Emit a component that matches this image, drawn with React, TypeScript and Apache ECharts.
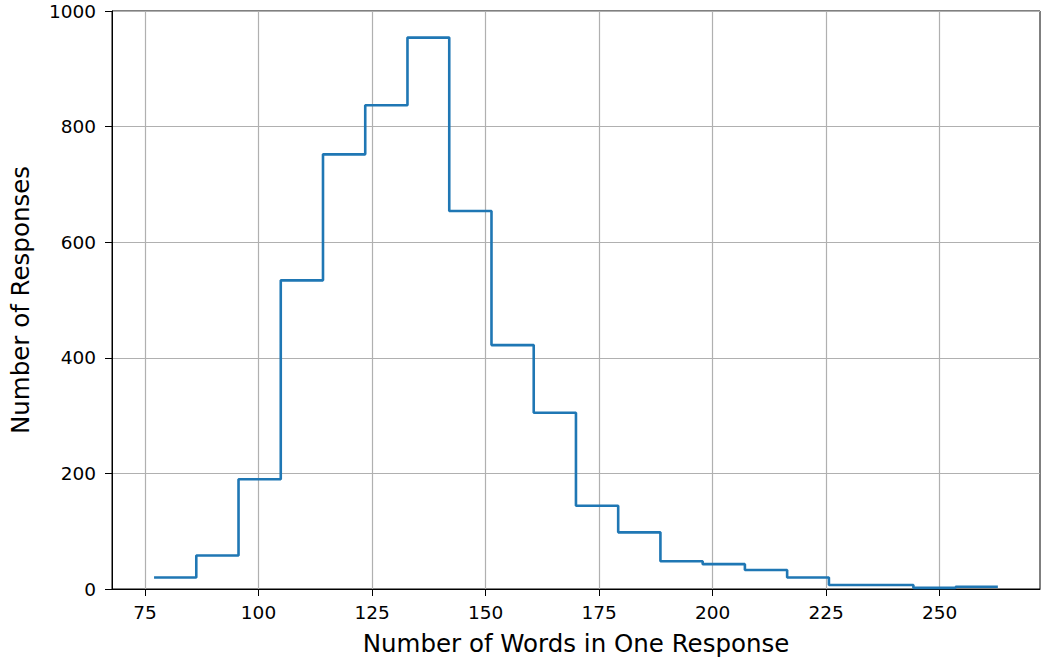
import { useEffect, useRef } from "react";
import * as echarts from "echarts";

// Histogram (step) of response word counts
const binEdges = [77.0, 86.3, 95.6, 104.9, 114.2, 123.5, 132.8, 142.0, 151.3, 160.6, 169.9, 179.2, 188.5, 197.8, 207.1, 216.4, 225.6, 234.9, 244.2, 253.5, 262.8];
const counts = [20, 58, 190, 534, 752, 837, 954, 654, 422, 305, 144, 98, 48, 43, 33, 20, 7, 7, 2, 4];
const xTicks = [75, 100, 125, 150, 175, 200, 225, 250];
const yTicks = [0, 200, 400, 600, 800, 1000];
const xRange = [67.74, 272.08];
const xTitle = "Number of Words in One Response";
const yTitle = "Number of Responses";

const FONT = "DejaVu Sans";

export default function App() {
  const ref = useRef<HTMLDivElement>(null);
  useEffect(() => {
    if (!ref.current) return;
    const chart = echarts.init(ref.current, undefined, { renderer: "svg" });
    const stepData: number[][] = counts.map((c, i) => [binEdges[i], c]);
    stepData.push([binEdges[binEdges.length - 1], counts[counts.length - 1]]);
    chart.setOption({
      animation: false,
      backgroundColor: "#ffffff",
      grid: {
        left: 111,
        right: 7,
        top: 11,
        bottom: 75,
        show: true,
        borderColor: "#000000",
        borderWidth: 1,
        backgroundColor: "transparent",
      },
      xAxis: {
        type: "value",
        min: xRange[0],
        max: xRange[1],
        name: xTitle,
        nameLocation: "middle",
        nameGap: 42,
        nameTextStyle: { fontFamily: FONT, fontSize: 24.5, color: "#000" },
        axisLine: { show: true, onZero: false, lineStyle: { color: "#000", width: 1 } },
        axisTick: { show: true, inside: false, length: 7, customValues: xTicks, lineStyle: { color: "#000", width: 1 } },
        axisLabel: { customValues: xTicks, margin: 14, fontFamily: FONT, fontSize: 18.5, color: "#000", formatter: (v: number) => String(v) },
        splitLine: { show: true, lineStyle: { color: "#b0b0b0", width: 1.2 } },
      },
      yAxis: {
        type: "value",
        min: yTicks[0],
        max: yTicks[yTicks.length - 1],
        interval: 200,
        name: yTitle,
        nameLocation: "middle",
        nameGap: 79,
        nameTextStyle: { fontFamily: FONT, fontSize: 24.5, color: "#000" },
        axisLine: { show: true, lineStyle: { color: "#000", width: 1 } },
        axisTick: { show: true, inside: false, length: 7, lineStyle: { color: "#000", width: 1 } },
        axisLabel: { margin: 16, fontFamily: FONT, fontSize: 18.5, color: "#000", formatter: (v: number) => String(v) },
        splitLine: { show: true, lineStyle: { color: "#b0b0b0", width: 1.2 } },
      },
      series: [
        {
          type: "line",
          step: "end",
          data: stepData,
          symbol: "none",
          lineStyle: { color: "#1f77b4", width: 2.6 },
          clip: false,
        },
      ],
    });
    return () => chart.dispose();
  }, []);
  return (
    <div
      ref={ref}
      style={{ position: "absolute", left: 0, top: 0, width: 1047, height: 664 }}
    />
  );
}
